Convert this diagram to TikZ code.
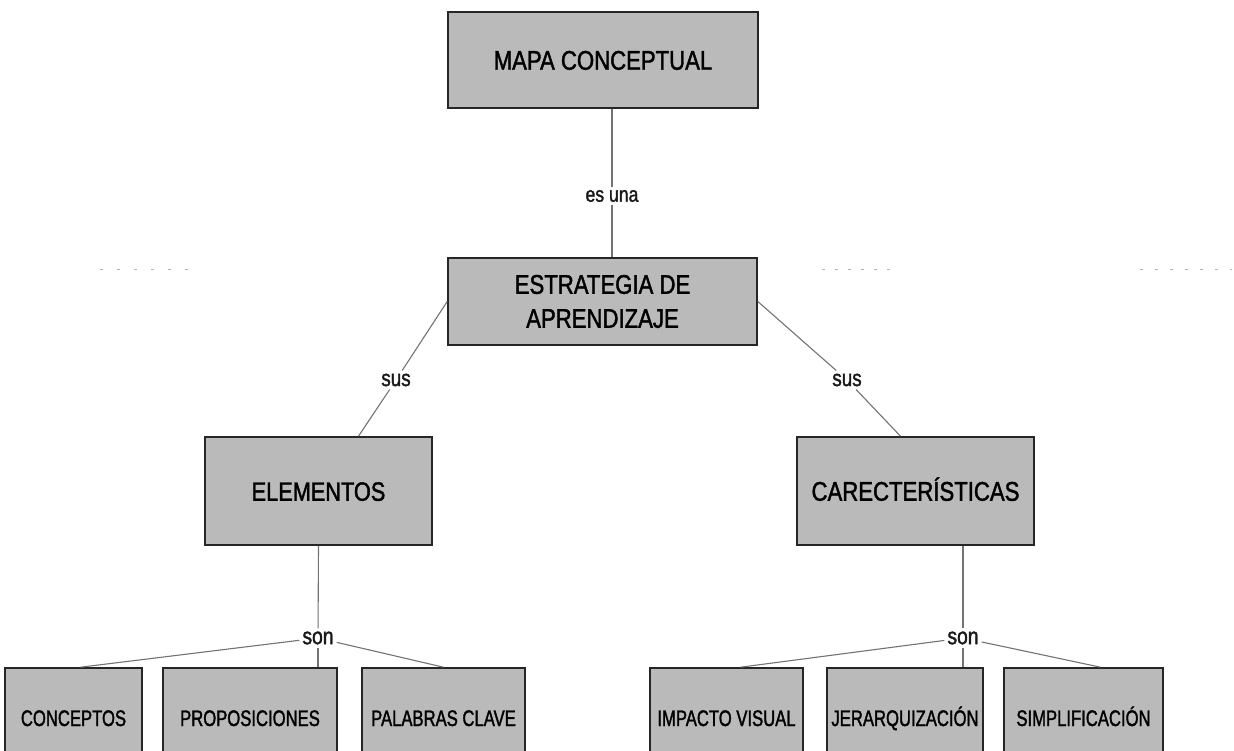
\documentclass[tikz,border=0pt]{standalone}
\usepackage{fontspec}
\setmainfont{Liberation Sans}[FakeStretch=0.82,FakeBold=1.5]
\newfontfamily\narrowfont{Liberation Sans}[FakeStretch=0.74,FakeBold=1.5]
\begin{document}
\begin{tikzpicture}[x=1pt,y=-1pt,
  box/.style={draw=black!85, line width=1.6pt, fill=black!27, inner sep=0pt, align=center, text=black},
  bigtext/.style={font=\fontsize{27}{34}\selectfont, text height=19.5pt, text depth=0pt},
  smalltext/.style={font=\narrowfont\fontsize{22.5}{24}\selectfont, text height=16pt, text depth=0pt},
  conn/.style={draw=black!55, line width=1.1pt},
  lbl/.style={inner sep=3pt, text=black!90},
  speck/.style={draw=black!30, line width=1pt}]
\clip (0,0) rectangle (1234,751);
\fill[white] (0,0) rectangle (1234,751);

% main boxes
\node[box, bigtext, minimum width=310pt, minimum height=96pt] (mapa) at (603,60) {MAPA CONCEPTUAL};
\node[box, font=\fontsize{27}{34}\selectfont, minimum width=309pt, minimum height=87pt] (estr) at (602.5,301.5) {ESTRATEGIA DE\\APRENDIZAJE};
\node[box, bigtext, font=\fontsize{26.5}{30}\selectfont, minimum width=227pt, minimum height=108pt] (elem) at (318.5,491) {ELEMENTOS};
\node[box, bigtext, minimum width=237pt, minimum height=108pt] (care) at (915.5,491) {CARECTERÍSTICAS};

% bottom boxes
\node[box, smalltext, minimum width=137pt, minimum height=100pt] (conc) at (73.5,718) {CONCEPTOS};
\node[box, smalltext, minimum width=174pt, minimum height=100pt] (prop) at (250,718) {PROPOSICIONES};
\node[box, smalltext, minimum width=163pt, minimum height=100pt] (pal) at (443.5,718) {PALABRAS CLAVE};
\node[box, smalltext, minimum width=153pt, minimum height=100pt] (imp) at (726.5,718) {IMPACTO VISUAL};
\node[box, smalltext, minimum width=156pt, minimum height=100pt] (jer) at (905,718) {JERARQUIZACIÓN};
\node[box, smalltext, minimum width=159pt, minimum height=100pt] (simp) at (1083.5,718) {SIMPLIFICACIÓN};

% labels
\node[lbl, font=\fontsize{21.5}{23}\selectfont] (esuna) at (612,196) {es una};
\node[lbl, font=\fontsize{23}{25}\selectfont] (susL) at (396,380) {sus};
\node[lbl, font=\fontsize{23}{25}\selectfont] (susR) at (847,380) {sus};
\node[lbl, font=\fontsize{23.5}{25}\selectfont] (sonL) at (318,638) {son};
\node[lbl, font=\fontsize{23.5}{25}\selectfont] (sonR) at (963,638) {son};

% connectors
\draw[conn] (esuna |- mapa.south) -- (esuna);
\draw[conn] (esuna) -- (esuna |- estr.north);
\draw[conn] (estr.west) -- (susL);
\draw[conn] (susL) -- ([xshift=40pt]elem.north);
\draw[conn] (estr.east) -- (susR);
\draw[conn] (susR) -- ([xshift=-15pt]care.north);
\draw[conn] (elem.south) -- (sonL);
\draw[conn] (sonL) -- (sonL |- prop.north);
\draw[conn] (sonL) -- ([xshift=7pt]conc.north);
\draw[conn] (sonL) -- (pal.north);
\draw[conn] (sonR |- care.south) -- (sonR);
\draw[conn] (sonR) -- (sonR |- jer.north);
\draw[conn] (sonR) -- ([xshift=14pt]imp.north);
\draw[conn] (sonR) -- ([xshift=17pt]simp.north);

% faint scan specks
\draw[speck, dash pattern=on 3pt off 14pt] (100,270) -- (200,270);
\draw[speck, dash pattern=on 3pt off 10pt] (822,270) -- (890,270);
\draw[speck, dash pattern=on 3pt off 12pt] (1140,270) -- (1232,270);
\end{tikzpicture}
\end{document}
